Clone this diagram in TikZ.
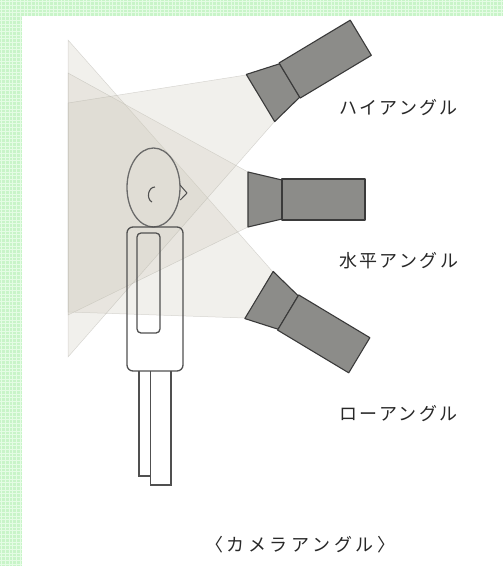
\documentclass[tikz,border=0pt]{standalone}
\usepackage{fontspec}
\newfontfamily\jpfont[LetterSpace=13]{Noto Sans CJK JP}
\newfontfamily\jptitlefont[LetterSpace=20]{Noto Sans CJK JP}
\definecolor{bordergreen}{RGB}{200,244,200}
\definecolor{gridgreen}{RGB}{228,252,228}
\definecolor{conefill}{RGB}{205,200,186}
\definecolor{coneedge}{RGB}{175,173,165}
\definecolor{camfill}{RGB}{140,140,137}
\definecolor{camedge}{RGB}{58,58,58}
\definecolor{figline}{RGB}{80,80,80}
\definecolor{textgray}{RGB}{40,40,40}
\tikzset{
  cone/.style={fill=conefill, fill opacity=0.27, draw=coneedge, draw opacity=0.45, line width=0.5pt},
  cambody/.style={fill=camfill, draw=camedge, line width=1.1pt, line join=round},
  figure/.style={draw=figline, line width=1.3pt},
  caption/.style={font=\jpfont\fontsize{18}{20}\selectfont, text=textgray, inner sep=0pt, anchor=west},
  titlecap/.style={caption, font=\jptitlefont\fontsize{18}{20}\selectfont},
  camera/.pic={
    \filldraw[cambody] (0,-27.5) -- (34,-19.5) -- (34,19.5) -- (0,27.5) -- cycle;
    \filldraw[cambody] (34,-20.5) rectangle (117,20.5);
  }
}
\begin{document}
\begin{tikzpicture}[x=1pt,y=-1pt]
\useasboundingbox (0,0) rectangle (503,566);
% page frame strips
\fill[bordergreen] (0,0) rectangle (503,16);
\fill[bordergreen] (0,16) rectangle (22,566);
\foreach \gx in {1.8,5.5,...,503} \draw[gridgreen, line width=1pt] (\gx,0) -- (\gx,16);
\foreach \gx in {1.8,5.5,...,22} \draw[gridgreen, line width=1pt] (\gx,16) -- (\gx,566);
\foreach \gy in {1.8,5.5,...,566} \draw[gridgreen, line width=1pt] (0,\gy) -- (22,\gy);
\foreach \gy in {1.8,5.5,...,16} \draw[gridgreen, line width=1pt] (22,\gy) -- (503,\gy);
% fields of view projected on the wall
\path[cone] (273,272) -- (245,318) -- (68,312) -- (68,40) -- cycle;
\path[cone] (248,172) -- (248,227) -- (68,315) -- (68,73) -- cycle;
\path[cone] (246,75) -- (275,121) -- (68,357) -- (68,103) -- cycle;
% cameras
\pic[rotate=31] at (260.5,98) {camera};
\pic at (248,199.5) {camera};
\pic[rotate=-31] at (259,295) {camera};
% person
\draw[figure, draw=figline!85] (153.5,187.5) ellipse [x radius=26.5, y radius=39.5];
\draw[figure, line width=1pt, line join=round] (180,185) -- (187,193) -- (180.3,200);
\draw[figure, line width=1.1pt] (155,187) .. controls (148,187) and (146,199) .. (152,202);
\draw[figure, rounded corners=6pt] (127,227) rectangle (183,371);
\draw[figure, rounded corners=4pt] (137,233) rectangle (160,333);
\draw[figure] (139,371) -- (139,476) -- (150.5,476);
\draw[figure] (150.5,371) -- (150.5,485) -- (171,485) -- (171,371);
% labels
\node[caption] (lblhigh) at (339,108) {ハイアングル};
\node[caption] (lblflat) at (339,261) {水平アングル};
\node[caption] (lbllow) at (339,414) {ローアングル};
\node[titlecap] (title) at (205,545) {〈カメラアングル〉};
\end{tikzpicture}
\end{document}
